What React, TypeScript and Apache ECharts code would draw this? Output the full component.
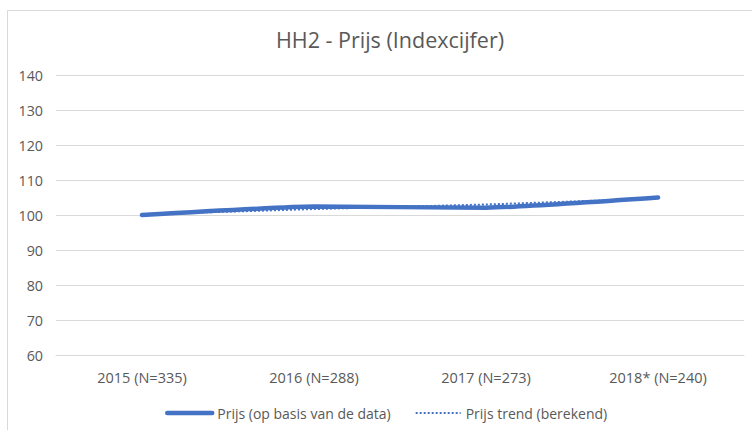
import React, { useEffect, useRef } from "react";
import * as echarts from "echarts";

const categories = ["2015 (N=335)", "2016 (N=288)", "2017 (N=273)", "2018* (N=240)"];
const prijsData = [100, 102.4, 102.1, 105.0];
const trendData = [100.2, 101.7, 103.0, 104.7];
const seriesNames = ["Prijs (op basis van de data)", "Prijs trend (berekend)"];
const titleText = "HH2 - Prijs (Indexcijfer)";

const FONT = "'Open Sans', 'Noto Sans', sans-serif";
const TEXT = "#595959";
const GRID = "#d9d9d9";
const BLUE = "#4472C4";

export default function App() {
  const ref = useRef<HTMLDivElement>(null);
  useEffect(() => {
    if (!ref.current) return;
    const chart = echarts.init(ref.current, undefined, { renderer: "svg" });
    chart.setOption({
      animation: false,
      backgroundColor: "#ffffff",
      textStyle: { fontFamily: FONT },
      graphic: [
        {
          type: "rect",
          shape: { x: 7.5, y: 10.5, width: 800, height: 500 },
          style: { fill: "none", stroke: GRID, lineWidth: 1 },
          silent: true,
        },
      ],
      title: {
        text: titleText,
        left: 385,
        textAlign: "center",
        top: 23,
        textStyle: { fontFamily: FONT, fontSize: 21.5, fontWeight: "normal", color: TEXT },
      },
      legend: {
        top: 401,
        left: 160,
        itemWidth: 45,
        itemHeight: 12,
        itemGap: 24,
        itemStyle: { opacity: 0 },
        textStyle: { fontFamily: FONT, fontSize: 14, color: TEXT },
        data: [
          { name: seriesNames[0], lineStyle: { width: 4.5, color: BLUE } },
          { name: seriesNames[1], lineStyle: { width: 2, color: BLUE, type: "dotted" } },
        ],
      },
      grid: { left: 56, right: 8, top: 75, bottom: 75, containLabel: false },
      xAxis: {
        type: "category",
        data: categories,
        boundaryGap: true,
        axisLine: { show: true, lineStyle: { color: GRID, width: 1 } },
        axisTick: { show: false },
        axisLabel: { color: TEXT, fontSize: 14.5, fontFamily: FONT, margin: 15 },
      },
      yAxis: {
        type: "value",
        min: 60,
        max: 140,
        interval: 10,
        axisLine: { show: false },
        axisTick: { show: false },
        axisLabel: { color: TEXT, fontSize: 14.3, fontFamily: FONT, margin: 13 },
        splitLine: { lineStyle: { color: GRID, width: 1 } },
      },
      series: [
        {
          name: seriesNames[1],
          type: "line",
          data: trendData,
          symbol: "none",
          lineStyle: { color: BLUE, width: 2, type: "dotted" },
          itemStyle: { color: BLUE },
          z: 2,
        },
        {
          name: seriesNames[0],
          type: "line",
          data: prijsData,
          symbol: "none",
          smooth: 0.15,
          lineStyle: { color: BLUE, width: 4.5, cap: "round" },
          itemStyle: { color: BLUE },
          z: 3,
        },
      ],
    });
    return () => chart.dispose();
  }, []);
  return (
    <div
      ref={ref}
      style={{ position: "fixed", left: 0, top: 0, width: 752, height: 430 }}
    />
  );
}
